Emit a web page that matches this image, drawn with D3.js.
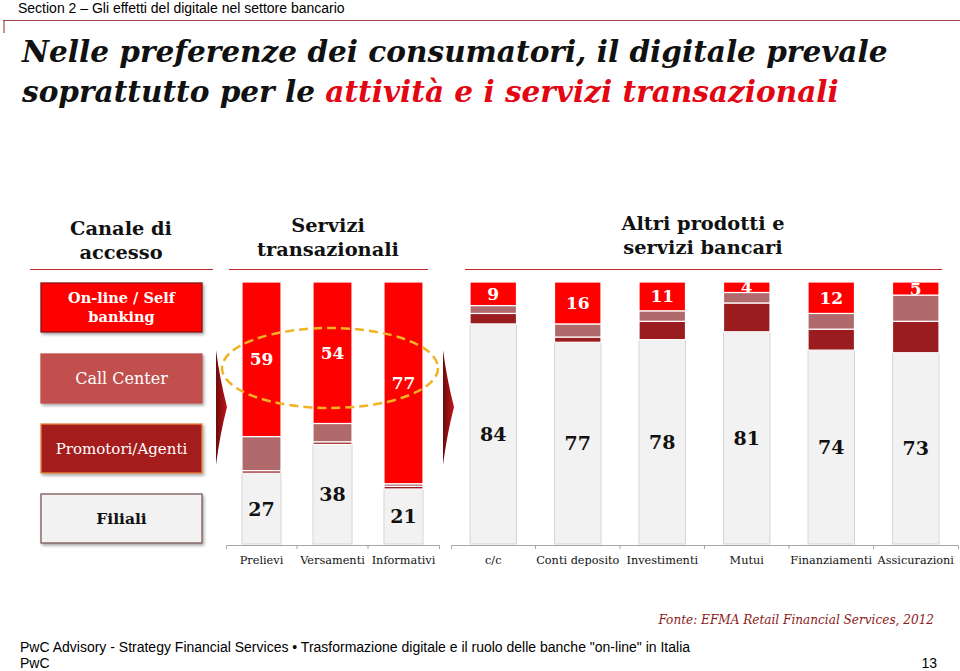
<!DOCTYPE html>
<html><head><meta charset="utf-8">
<script src="https://cdn.jsdelivr.net/npm/d3@7"></script>
<style>body{margin:0;background:#fff;} svg{display:block;}</style>
</head><body>
<svg id="c" width="960" height="671"></svg>
<script>
// ---- data ----
const catsTrans = ["Prelievi","Versamenti","Informativi"];
const catsAltri = ["c/c","Conti deposito","Investimenti","Mutui","Finanziamenti","Assicurazioni"];
const categories = catsTrans.concat(catsAltri);
const online     = [59,54,77, 9,16,11, 4,12, 5];
const callCenter = [13, 7, 1, 3, 5, 4, 4, 6,10];
const promotori  = [ 1, 1, 1, 4, 2, 7,11, 8,12];
const filiali    = [27,38,21,84,77,78,81,74,73];
const legendLabels = [["On-line / Self","banking"],["Call Center"],["Promotori/Agenti"],["Filiali"]];
const sectionTitles = [["Canale di","accesso"],["Servizi","transazionali"],["Altri prodotti e","servizi bancari"]];

const svg = d3.select("#c");
const serif = "Georgia, 'DejaVu Serif', serif";
const sans = "Arial, 'Liberation Sans', sans-serif";

function fitWidth(node, w){
  const cur = node.getComputedTextLength();
  const fs = parseFloat(node.getAttribute("font-size"));
  const nfs = fs * w / cur;
  node.setAttribute("font-size", nfs);
  return nfs;
}

// defs
const defs = svg.append("defs");
const sh = defs.append("filter").attr("id","sh").attr("x","-10%").attr("y","-10%").attr("width","130%").attr("height","140%");
sh.append("feDropShadow").attr("dx",1.5).attr("dy",2).attr("stdDeviation",1.5).attr("flood-color","#000").attr("flood-opacity",0.35);
const gr = defs.append("linearGradient").attr("id","arrowG").attr("x1","0").attr("x2","1").attr("y1","0").attr("y2","0");
gr.append("stop").attr("offset","0").attr("stop-color","#6e0a0a");
gr.append("stop").attr("offset","1").attr("stop-color","#c0161a");

// ---- header ----
svg.append("text").attr("x",18).attr("y",13).attr("font-family",sans).attr("font-size",14).attr("fill","#000")
  .text("Section 2 \u2013 Gli effetti del digitale nel settore bancario");
svg.append("line").attr("x1",3).attr("x2",960).attr("y1",20.5).attr("y2",20.5).attr("stroke","#a04a4a").attr("stroke-width",1.2);
svg.append("line").attr("x1",4).attr("x2",4).attr("y1",20).attr("y2",33).attr("stroke","#a04a4a").attr("stroke-width",1.2);

const t1 = svg.append("text").attr("x",22).attr("y",62).attr("font-family",serif).attr("font-size",31)
  .attr("font-weight","bold").attr("font-style","italic").attr("fill","#111")
  .text("Nelle preferenze dei consumatori, il digitale prevale");
const tfs = fitWidth(t1.node(), 866);
const t2 = svg.append("text").attr("x",22).attr("y",102).attr("font-family",serif).attr("font-size",tfs)
  .attr("font-weight","bold").attr("font-style","italic").attr("fill","#111");
t2.append("tspan").text("soprattutto per le ");
t2.append("tspan").attr("fill","#e30613").text("attivit\u00e0 e i servizi transazionali");

// ---- section titles ----
const secX = [121, 328, 703];
const secY = [228, 225, 223];
const secLines = [[30,213],[229,428],[465,942]];
const probe = svg.append("text").attr("font-family",serif).attr("font-weight","bold").attr("font-size",20).text("transazionali");
const sfs = fitWidth(probe.node(), 142);
probe.remove();
sectionTitles.forEach((lines,i)=>{
  const t = svg.append("text").attr("text-anchor","middle").attr("font-family",serif).attr("font-weight","bold")
    .attr("font-size",sfs).attr("fill","#111");
  lines.forEach((l,j)=> t.append("tspan").attr("x",secX[i]).attr("y",secY[i]+7+j*24).text(l));
  svg.append("line").attr("x1",secLines[i][0]).attr("x2",secLines[i][1]).attr("y1",269.5).attr("y2",269.5)
    .attr("stroke","#c0282d").attr("stroke-width",1);
});

// ---- legend boxes ----
const legFill = ["#ff0000","#c0504d","#a51f1a","#f2f2f2"];
const legStroke = ["#8b1010","#c0504d","#e6823c","#7a5858"];
const legText = ["#fff","#fff","#fff","#111"];
const legBold = ["bold","normal","normal","bold"];
const legSize = [14.5,16,15,15.5];
const legY = [283,354,424,494];
legendLabels.forEach((lab,i)=>{
  svg.append("rect").attr("x",41).attr("y",legY[i]).attr("width",161).attr("height",49)
    .attr("fill",legFill[i]).attr("stroke",legStroke[i]).attr("stroke-width",1.3).attr("filter","url(#sh)");
  const t = svg.append("text").attr("text-anchor","middle").attr("font-family",serif).attr("font-weight",legBold[i])
    .attr("font-size", legSize[i]).attr("fill",legText[i]);
  const n = lab.length;
  lab.forEach((l,j)=> t.append("tspan").attr("x",121.5).attr("y",legY[i]+24.5+ (j-(n-1)/2)*19 + 5).text(l));
});

// ---- scales ----
const y = d3.scaleLinear().domain([0,100]).range([544,282]);
const x1 = d3.scaleBand().domain(catsTrans).range([226,439]).paddingInner(0.45).paddingOuter(0.225);
const x2 = d3.scaleBand().domain(catsAltri).range([451,958]).paddingInner(0.45).paddingOuter(0.225);
const xOf = c => catsTrans.includes(c) ? x1 : x2;

const rows = categories.map((c,i)=>({cat:c, online:online[i], callCenter:callCenter[i], promotori:promotori[i], filiali:filiali[i]}));
const keys = ["filiali","promotori","callCenter","online"];
const colors = {filiali:"#f2f2f2", promotori:"#9b1c1f", callCenter:"#b06a6c", online:"#ff0000"};
const stacked = d3.stack().keys(keys)(rows);

// arrows
[[216,227],[443,454]].forEach(a=>{
  svg.append("path").attr("d",`M${a[0]},350 Q${a[0]+4},380 ${a[1]},407 Q${a[0]+4},434 ${a[0]},465 Z`)
    .attr("fill","url(#arrowG)");
});

// bars
stacked.forEach(layer=>{
  const g = svg.append("g");
  g.selectAll("rect").data(layer).join("rect")
    .attr("x", d=> xOf(d.data.cat)(d.data.cat))
    .attr("width", d=> xOf(d.data.cat).bandwidth())
    .attr("y", d=> y(d[1]))
    .attr("height", d=> y(d[0]) - y(d[1]))
    .attr("fill", colors[layer.key])
    .attr("stroke", layer.key==="filiali" ? "#d6d6d6" : "#fff")
    .attr("stroke-width", layer.key==="filiali" ? 1 : 1.2);
});

// value labels
const onlineLayer = stacked.find(l=>l.key==="online");
const filLayer = stacked.find(l=>l.key==="filiali");
svg.append("g").selectAll("text").data(onlineLayer).join("text")
  .attr("x", d=> xOf(d.data.cat)(d.data.cat) + xOf(d.data.cat).bandwidth()/2)
  .attr("y", d=> (y(d[0])+y(d[1]))/2 + 6)
  .attr("text-anchor","middle").attr("font-family",serif).attr("font-weight","bold").attr("font-size",17)
  .attr("fill","#fff").text(d=> d.data.online);
svg.append("g").selectAll("text").data(filLayer).join("text")
  .attr("x", d=> xOf(d.data.cat)(d.data.cat) + xOf(d.data.cat).bandwidth()/2)
  .attr("y", d=> (y(d[0])+y(d[1]))/2 + 7)
  .attr("text-anchor","middle").attr("font-family",serif).attr("font-weight","bold").attr("font-size",19)
  .attr("fill","#111").text(d=> d.data.filiali);

// axes
[x1,x2].forEach(sc=>{
  const ax = svg.append("g").attr("transform","translate(0,545)")
    .call(d3.axisBottom(sc).tickSize(0).tickSizeOuter(4).tickPadding(11));
  ax.select(".domain").attr("stroke","#a6a6a6");
  ax.selectAll("text").attr("font-family",serif).attr("font-size",11.3).attr("fill","#111");
  const step = sc.step();
  ax.selectAll(".bnd").data(sc.domain().slice(1)).join("line").attr("class","bnd")
    .attr("x1",(d)=> sc(d) - sc.paddingInner()*step/2).attr("x2",(d)=> sc(d) - sc.paddingInner()*step/2)
    .attr("y1",0).attr("y2",4).attr("stroke","#a6a6a6");
});

// dashed ellipse
svg.append("ellipse").attr("cx",330).attr("cy",368).attr("rx",108).attr("ry",40)
  .attr("fill","none").attr("stroke","#f0b323").attr("stroke-width",2.5).attr("stroke-dasharray","9,5");

// ---- footer ----
const fo = svg.append("text").attr("x",934).attr("y",624).attr("text-anchor","end").attr("font-family",serif)
  .attr("font-style","italic").attr("font-size",13).attr("fill","#8b1a1a")
  .text("Fonte:  EFMA Retail Financial Services, 2012");
fitWidth(fo.node(), 276);
svg.append("text").attr("x",20).attr("y",652).attr("font-family",sans).attr("font-size",14).attr("fill","#000")
  .text("PwC Advisory - Strategy Financial Services \u2022 Trasformazione digitale e il ruolo delle banche \"on-line\" in Italia");
svg.append("text").attr("x",20).attr("y",668).attr("font-family",sans).attr("font-size",14).attr("fill","#000").text("PwC");
svg.append("text").attr("x",937).attr("y",668).attr("text-anchor","end").attr("font-family",sans).attr("font-size",14).attr("fill","#000").text("13");
</script>
</body></html>
